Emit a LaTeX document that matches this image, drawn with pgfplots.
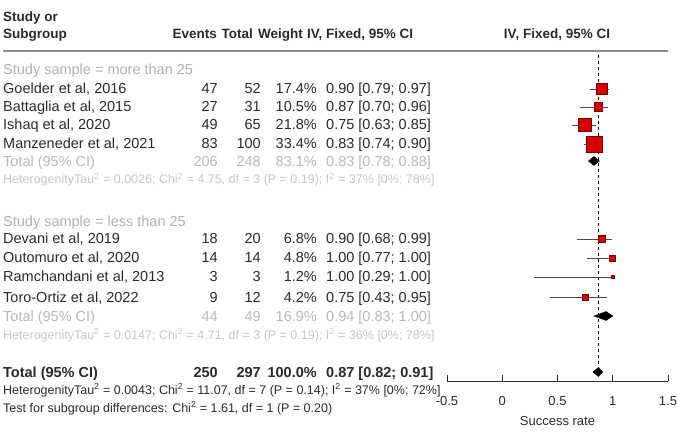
\documentclass[border=0pt]{standalone}
\usepackage{fontspec}
\setmainfont{Liberation Sans}
\usepackage{pgfplots}
\pgfplotsset{compat=1.18}

\definecolor{txt}{HTML}{2A2A2A}
\definecolor{sub}{HTML}{B0B0B0}
\definecolor{tot}{HTML}{B8B8B8}
\definecolor{het}{HTML}{C6C6C6}
\definecolor{rule}{HTML}{8C8C8C}
\definecolor{sqfill}{HTML}{D60000}
\definecolor{sqdraw}{HTML}{7A0000}

% one table row: [colour]{y}{study}{events}{total}{weight}{estimate [CI]}
\newcommand\row[7][txt]{%
  \node[anchor=base west, text=#1] at (3,#2+5) {#3};
  \node[anchor=base east, text=#1] at (218,#2+5) {#4};
  \node[anchor=base east, text=#1] at (261,#2+5) {#5};
  \node[anchor=base east, text=#1] at (317,#2+5) {#6};
  \node[anchor=base west, text=#1] at (326,#2+5) {#7};}

\begin{document}
\begin{tikzpicture}
\useasboundingbox (0pt,0pt) rectangle (677pt,-438pt);

\begin{axis}[
    at={(447pt,-381pt)}, anchor=south west,
    scale only axis, width=221pt, height=336pt,
    xmin=-0.5, xmax=1.5, ymin=-381, ymax=-45,
    axis x line=bottom, axis y line=none,
    axis line style={-, draw=txt, line width=0.8pt},
    xtick={-0.5,0,0.5,1,1.5},
    xticklabels={-0.5,0,0.5,1,1.5},
    tick align=inside, major tick length=6pt,
    tick style={draw=txt, line width=0.8pt},
    xticklabel style={font=\fontsize{13}{13}\selectfont, text=txt, anchor=base, yshift=-24pt},
    xlabel={Success rate},
    xlabel style={font=\fontsize{13}{13}\selectfont, text=txt, at={(axis description cs:0.5,0)}, anchor=base, yshift=-44pt},
    clip=false,
    ci/.style={draw=txt!85, line width=0.9pt, mark=none},
    sq/.style={only marks, mark=square*, mark size=#1, mark options={fill=sqfill, draw=sqdraw, line width=0.6pt}},
    dia/.style={fill=black, draw=black, line width=0.4pt, mark=none},
]
% line of the overall estimate
\addplot[draw=black, line width=0.8pt, dash pattern=on 3pt off 3pt, mark=none]
    coordinates {(0.87,-55) (0.87,-378)};

% confidence intervals
\addplot[ci] coordinates {(0.79,-89) (0.97,-89)};
\addplot[ci] coordinates {(0.70,-107) (0.96,-107)};
\addplot[ci] coordinates {(0.63,-125) (0.85,-125)};
\addplot[ci] coordinates {(0.74,-144) (0.90,-144)};
\addplot[ci] coordinates {(0.68,-239) (0.99,-239)};
\addplot[ci] coordinates {(0.77,-258) (1.00,-258)};
\addplot[ci] coordinates {(0.29,-277) (1.00,-277)};
\addplot[ci] coordinates {(0.43,-297) (0.95,-297)};

% study estimates, box area by weight
\addplot[sq=5.7] coordinates {(0.90,-89)};
\addplot[sq=4.4] coordinates {(0.87,-107)};
\addplot[sq=6.4] coordinates {(0.75,-125)};
\addplot[sq=7.9] coordinates {(0.83,-144)};
\addplot[sq=3.6] coordinates {(0.90,-239)};
\addplot[sq=3.0] coordinates {(1.00,-258)};
\addplot[sq=1.6] coordinates {(1.00,-277)};
\addplot[sq=2.8] coordinates {(0.75,-297)};

% pooled estimates
\addplot[dia] coordinates {(0.78,-161) (0.83,-156.5) (0.88,-161) (0.83,-165.5)} -- cycle;
\addplot[dia] coordinates {(0.83,-316) (0.94,-311.5) (1.00,-316) (0.94,-320.5)} -- cycle;
\addplot[dia] coordinates {(0.82,-372) (0.87,-367.5) (0.91,-372) (0.87,-376.5)} -- cycle;
\end{axis}

\begin{scope}[x=1pt, y=-1pt, every node/.style={font=\fontsize{14.5}{16}\selectfont, text=txt, inner sep=0pt}]
\begin{scope}[every node/.append style={font=\fontsize{13.5}{15}\selectfont\bfseries}]
\node[anchor=base west] at (3,22) {Study or};
\node[anchor=base west] at (3,39) {Subgroup};
\node[anchor=base east] at (217,39) {Events};
\node[anchor=base east] at (253,39) {Total};
\node[anchor=base east] at (303,39) {Weight};
\node[anchor=base west] at (307,39) {IV, Fixed, 95\% CI};
\node[anchor=base] at (557,39) {IV, Fixed, 95\% CI};
\end{scope}
\draw[rule, line width=1.6pt] (3,51) -- (668,51);

\node[anchor=base west, text=sub] at (3,75) {Study sample = more than 25};
\row{89}{Goelder et al, 2016}{47}{52}{17.4\%}{0.90 [0.79; 0.97]}
\row{107}{Battaglia et al, 2015}{27}{31}{10.5\%}{0.87 [0.70; 0.96]}
\row{125}{Ishaq et al, 2020}{49}{65}{21.8\%}{0.75 [0.63; 0.85]}
\row{144}{Manzeneder et al, 2021}{83}{100}{33.4\%}{0.83 [0.74; 0.90]}
\row[tot]{162}{Total (95\% CI)}{206}{248}{83.1\%}{0.83 [0.78; 0.88]}
\node[anchor=base west, text=het, font=\fontsize{12.5}{14}\selectfont] at (3,184)
  {HeterogenityTau\textsuperscript{2} = 0.0026; Chi\textsuperscript{2} = 4.75, df = 3 (P = 0.19); I\textsuperscript{2} = 37\% [0\%; 78\%]};

\node[anchor=base west, text=sub] at (3,227) {Study sample = less than 25};
\row{239}{Devani et al, 2019}{18}{20}{6.8\%}{0.90 [0.68; 0.99]}
\row{258}{Outomuro et al, 2020}{14}{14}{4.8\%}{1.00 [0.77; 1.00]}
\row{277}{Ramchandani et al, 2013}{3}{3}{1.2\%}{1.00 [0.29; 1.00]}
\row{297}{Toro-Ortiz et al, 2022}{9}{12}{4.2\%}{0.75 [0.43; 0.95]}
\row[tot]{316}{Total (95\% CI)}{44}{49}{16.9\%}{0.94 [0.83; 1.00]}
\node[anchor=base west, text=het, font=\fontsize{12.5}{14}\selectfont] at (3,339)
  {HeterogenityTau\textsuperscript{2} = 0.0147; Chi\textsuperscript{2} = 4.71, df = 3 (P = 0.19); I\textsuperscript{2} = 36\% [0\%; 78\%]};

\row{372}{\bfseries Total (95\% CI)}{\bfseries 250}{\bfseries 297}{\bfseries 100.0\%}{\bfseries 0.87 [0.82; 0.91]}
\node[anchor=base west, font=\fontsize{12.5}{14}\selectfont] at (3,394)
  {HeterogenityTau\textsuperscript{2} = 0.0043; Chi\textsuperscript{2} = 11.07, df = 7 (P = 0.14); I\textsuperscript{2} = 37\% [0\%; 72\%]};
\node[anchor=base west, font=\fontsize{12.5}{14}\selectfont] at (3,412)
  {Test for subgroup differences: Chi\textsuperscript{2} = 1.61, df = 1 (P = 0.20)};
\end{scope}
\end{tikzpicture}
\end{document}
